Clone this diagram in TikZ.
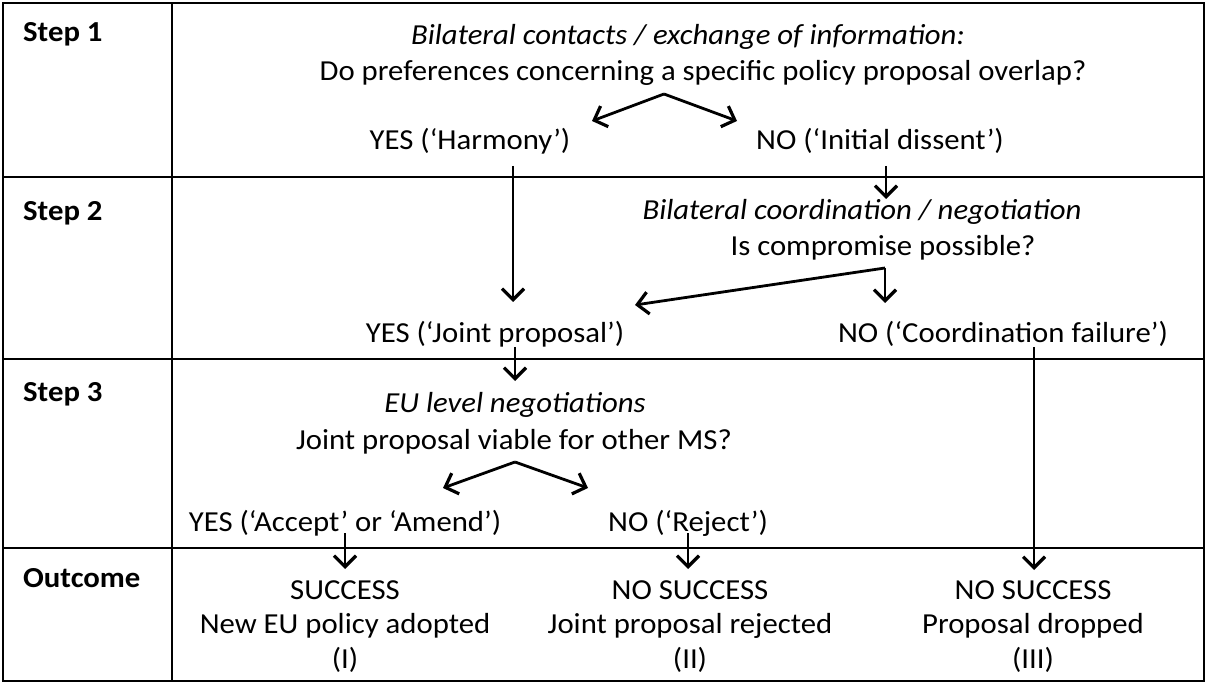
\documentclass[tikz,border=0pt]{standalone}
\usepackage{fontspec}
\setmainfont{Carlito}[FakeStretch=1.06]
\usetikzlibrary{arrows.meta}
\begin{document}
\begin{tikzpicture}[x=1pt,y=-1pt,
  txt/.style={font=\fontsize{29}{34}\selectfont, inner sep=0pt, anchor=base},
  itx/.style={txt, font=\fontsize{29}{34}\selectfont\itshape},
  hdr/.style={font=\fontsize{29}{34}\selectfont\bfseries, inner sep=0pt, anchor=base west},
  gridline/.style={line width=2.4pt, black},
  arr/.style={line width=2.8pt, -{Straight Barb[length=11pt,width=22pt,line width=3.2pt]}}]
\useasboundingbox (0,0) rectangle (1207,684);
% table
\draw[gridline] (3,3) rectangle (1204,681);
\draw[gridline] (172,3) -- (172,681);
\draw[gridline] (3,177) -- (1204,177);
\draw[gridline] (3,359) -- (1204,359);
\draw[gridline] (3,548) -- (1204,548);
% headers
\node[hdr] (h1) at (23,42) {Step 1};
\node[hdr] (h2) at (23,221) {Step 2};
\node[hdr] (h3) at (23,401) {Step 3};
\node[hdr] (h4) at (23,587) {Outcome};
% step 1
\node[itx] (bc) at (688,45) {Bilateral contacts / exchange of information:};
\node[txt] (dp) at (703,81) {Do preferences concerning a specific policy proposal overlap?};
\node[txt] (yh) at (470,150) {YES (‘Harmony’)};
\node[txt] (ni) at (880,150) {NO (‘Initial dissent’)};
% step 2
\node[itx] (bn) at (862,220) {Bilateral coordination / negotiation};
\node[txt] (cp) at (883,256) {Is compromise possible?};
\node[txt] (yj) at (495,343) {YES (‘Joint proposal’)};
\node[txt] (nc) at (1003,343) {NO (‘Coordination failure’)};
% step 3
\node[itx] (eu) at (515,412) {EU level negotiations};
\node[txt] (jv) at (514,449) {Joint proposal viable for other MS?};
\node[txt] (ya) at (345,531) {YES (‘Accept’ or ‘Amend’)};
\node[txt] (nr) at (688,531) {NO (‘Reject’)};
% outcome
\node[txt] (s1) at (345,599) {SUCCESS};
\node[txt] (o1) at (345,633) {New EU policy adopted};
\node[txt] (r1) at (345,668) {(I)};
\node[txt] (s2) at (690,599) {NO SUCCESS};
\node[txt] (o2) at (690,633) {Joint proposal rejected};
\node[txt] (r2) at (690,668) {(II)};
\node[txt] (s3) at (1033,599) {NO SUCCESS};
\node[txt] (o3) at (1033,633) {Proposal dropped};
\node[txt] (r3) at (1033,668) {(III)};
% connector coordinates
\coordinate (ap1) at (664,94);
\coordinate (t1l) at (592,121);
\coordinate (t1r) at (737,121);
\coordinate (hs) at (513,166);
\coordinate (he) at (513,302);
\coordinate (ns) at (886,166);
\coordinate (ne) at (886,199);
\coordinate (cc) at (885,268);
\coordinate (cl) at (635,305);
\coordinate (cd) at (885,303);
\coordinate (js) at (515,347);
\coordinate (je) at (515,381);
\coordinate (fs) at (1034,347);
\coordinate (fe) at (1034,570);
\coordinate (ap3) at (515,462);
\coordinate (t3l) at (443,488);
\coordinate (t3r) at (588,488);
\coordinate (as) at (345,533);
\coordinate (ae) at (345,569);
\coordinate (rs) at (688,533);
\coordinate (re) at (688,569);
% arrows
\draw[arr] (ap1) -- (t1l);
\draw[arr] (ap1) -- (t1r);
\draw[arr] (hs) -- (he);
\draw[arr] (ns) -- (ne);
\draw[arr] (cc) -- (cl);
\draw[arr] (cc) -- (cd);
\draw[arr] (js) -- (je);
\draw[arr] (fs) -- (fe);
\draw[arr] (ap3) -- (t3l);
\draw[arr] (ap3) -- (t3r);
\draw[arr] (as) -- (ae);
\draw[arr] (rs) -- (re);
\end{tikzpicture}
\end{document}
